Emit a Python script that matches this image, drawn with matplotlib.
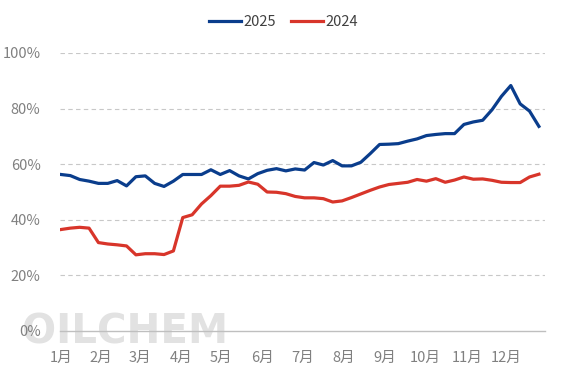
import matplotlib
matplotlib.use("Agg")
import matplotlib.pyplot as plt
import numpy as np

plt.rcParams['font.family'] = ['Noto Sans CJK SC', 'DejaVu Sans']

# weekly operating rate (%)
rate_2025 = [56.3, 55.9, 54.5, 53.9, 53.1, 53.1, 54.1, 52.2, 55.5, 55.8,
             53.1, 52.0, 53.9, 56.3, 56.3, 56.3, 58.0, 56.3, 57.7, 55.8,
             54.7, 56.6, 57.8, 58.4, 57.6, 58.3, 57.9, 60.6, 59.7, 61.3,
             59.4, 59.4, 60.7, 63.8, 67.1, 67.2, 67.4, 68.3, 69.1, 70.3,
             70.7, 71.0, 71.0, 74.3, 75.2, 75.8, 79.6, 84.4, 88.3, 81.7,
             79.1, 73.6]
rate_2024 = [36.5, 37.0, 37.3, 37.0, 31.8, 31.3, 31.0, 30.6, 27.4, 27.8,
             27.8, 27.5, 28.8, 40.8, 41.8, 45.7, 48.7, 52.1, 52.1, 52.4,
             53.6, 52.8, 50.0, 49.9, 49.4, 48.4, 47.9, 47.9, 47.6, 46.4,
             46.8, 48.0, 49.3, 50.6, 51.8, 52.7, 53.1, 53.5, 54.5, 53.9,
             54.8, 53.5, 54.3, 55.4, 54.6, 54.7, 54.2, 53.5, 53.4, 53.4,
             55.4, 56.4]
month_labels = ['1月', '2月', '3月', '4月', '5月', '6月', '7月', '8月',
                '9月', '10月', '11月', '12月']
month_pos = [0, 4.3, 8.4, 12.8, 17.1, 21.5, 25.8, 30.2, 34.6, 38.9, 43.3, 47.5]

blue = '#0a3d8c'
red = '#d8352a'

fig = plt.figure(figsize=(5.67, 3.78), dpi=100)
ax = fig.add_axes([60 / 567, 47 / 378, 485 / 567, 278 / 378])
ax.patch.set_visible(False)

weeks = np.arange(len(rate_2025))
ax.plot(weeks, rate_2025, color=blue, lw=2.3, label='2025', solid_joinstyle='round')
ax.plot(weeks, rate_2024, color=red, lw=2.3, label='2024', solid_joinstyle='round')

ax.set_xlim(-0.1, 51.65)
ax.set_ylim(0, 100)

# y axis
ax.set_yticks(range(0, 101, 20))
ax.set_yticklabels([f'{v}%' for v in range(0, 101, 20)])
ax.tick_params(axis='y', length=0, pad=14, labelsize=10.5, labelcolor='#808080')
for v in range(20, 101, 20):
    ax.axhline(v, color='#c8c8c8', lw=0.8, ls=(0, (4, 3)), zorder=0)

# x axis
ax.set_xticks(month_pos)
ax.set_xticklabels(month_labels)
ax.set_xticks(month_pos[1:], minor=True)
ax.tick_params(axis='x', which='major', length=0, pad=14, labelsize=10.5, labelcolor='#808080')
ax.tick_params(axis='x', which='minor', length=4, direction='in', color='#bfbfbf')

for s in ['top', 'right', 'left']:
    ax.spines[s].set_visible(False)
ax.spines['bottom'].set_color('#bfbfbf')
ax.spines['bottom'].set_linewidth(1)

# watermark
fig.text(22 / 567, 1 - 332 / 378, 'OILCHEM', fontsize=29, fontweight='bold',
         color='#e2e2e2', va='center', ha='left', family='DejaVu Sans',
         zorder=-1)

leg = fig.legend(loc='center', bbox_to_anchor=(0.5, 1 - 22 / 378), ncol=2,
                 frameon=False, fontsize=10.5, handlelength=2.2, handletextpad=0.2,
                 columnspacing=1.0)
for t in leg.get_texts():
    t.set_color('#404040')

fig.savefig('out.png', dpi=100)
